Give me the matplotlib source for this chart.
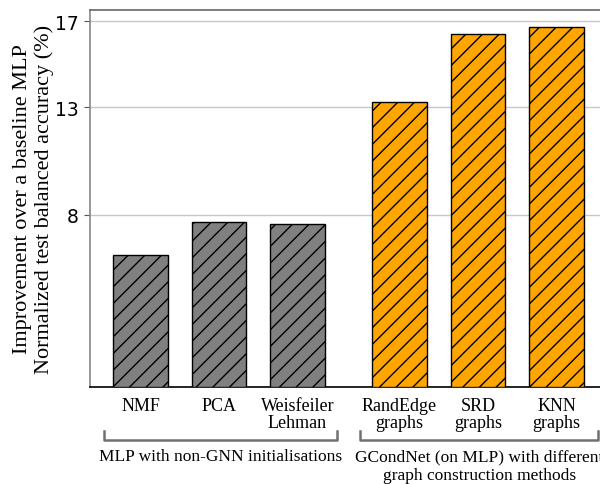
import matplotlib
matplotlib.use("Agg")
import matplotlib.pyplot as plt
import matplotlib.transforms as mtransforms

# data
labels = ['NMF', 'PCA', 'Weisfeiler\nLehman', 'RandEdge\ngraphs', 'SRD\ngraphs', 'KNN\ngraphs']
values = [6.14, 7.68, 7.6, 13.24, 16.42, 16.73]
positions = [0, 1, 2, 3.3, 4.3, 5.3]
colors = ['grey', 'grey', 'grey', 'orange', 'orange', 'orange']
yticks = [8, 13, 17]
group_names = ['MLP with non-GNN initialisations',
               'GCondNet (on MLP) with different\ngraph construction methods']
group_spans = [(-0.46, 2.5), (2.8, 5.83)]

plt.rcParams['hatch.linewidth'] = 1.0
serif = ['Liberation Serif', 'DejaVu Serif']

fig = plt.figure(figsize=(6, 4.85), dpi=100)
ax = fig.add_axes([89.5 / 600, 0.2, 518 / 600, 377 / 485])

ax.bar(positions, values, width=0.7, color=colors, edgecolor='black',
       hatch='//', linewidth=1.0, zorder=3)

ax.set_xlim(-0.65, 5.95)
ax.set_ylim(0, 17.53)
ax.set_yticks(yticks)
ax.set_yticklabels([str(t) for t in yticks], fontsize=13.5)
ax.yaxis.grid(True, color='#c8c8c8', linewidth=1.0, zorder=0)
ax.set_axisbelow(True)

ax.set_xticks(positions)
ax.set_xticklabels(labels, family=serif, fontsize=13, linespacing=1.05)
ax.tick_params(axis='x', length=0, pad=7)
ax.tick_params(axis='y', color='#555555', length=4)

ax.spines['top'].set_color('#666666')
ax.spines['left'].set_color('#888888')
ax.spines['right'].set_color('#666666')
ax.spines['bottom'].set_color('black')
for s in ax.spines.values():
    s.set_linewidth(1.2)

ax.set_ylabel('Improvement over a baseline MLP\nNormalized test balanced accuracy (%)',
              family=serif, fontsize=16, labelpad=1, linespacing=1.15)

# group brackets under the tick labels
trans = mtransforms.blended_transform_factory(ax.transData, ax.transAxes)
for (x0, x1), name in zip(group_spans, group_names):
    ax.plot([x0, x0, x1, x1], [-0.118, -0.141, -0.141, -0.118], color='#707070',
            linewidth=1.8, transform=trans, clip_on=False)
    ax.text((x0 + x1) / 2, -0.163, name, transform=trans, ha='center', va='top',
            family=serif, fontsize=12.5, linespacing=1.2)

fig.savefig('out.png', dpi=100)
